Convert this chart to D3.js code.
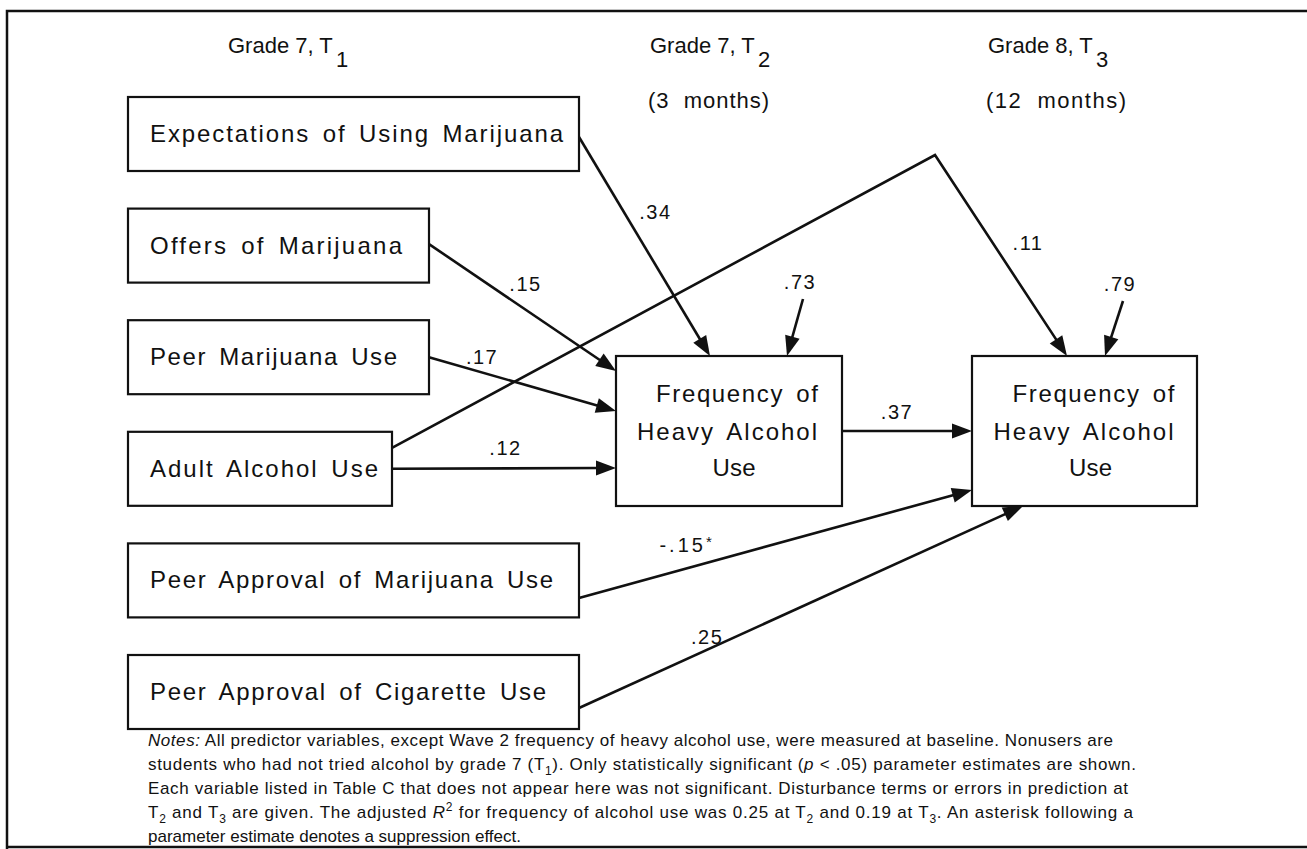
<!DOCTYPE html>
<html><head><meta charset="utf-8">
<script src="https://cdn.jsdelivr.net/npm/d3@7"></script>
<style>
html,body{margin:0;padding:0;background:#fff;}
svg{display:block;}
text{font-family:"Liberation Sans", Arial, Helvetica, sans-serif; fill:#111;}
</style></head><body>
<svg id="chart" width="1307" height="849"></svg>
<script>
// ---------------- data ----------------
const waves = ["Grade 7, T", "Grade 7, T", "Grade 8, T"];
const waveSubs = ["1", "2", "3"];
const waveIntervals = ["", "(3  months)", "(12  months)"];
const waveIds = ["T1", "T2", "T3"];
const predictors = ["Expectations of Using Marijuana", "Offers of Marijuana", "Peer Marijuana Use",
  "Adult Alcohol Use", "Peer Approval of Marijuana Use", "Peer Approval of Cigarette Use"];
const outcomes = ["T2", "T3"];
const outcomeLabel = ["Frequency of", "Heavy Alcohol", "Use"];
const pathSources = [0, 1, 2, 3, 3, 4, 5, "T2"];
const pathTargets = ["T2", "T2", "T2", "T2", "T3", "T3", "T3", "T3"];
const pathCoefficients = [".34", ".15", ".17", ".12", ".11", "-.15*", ".25", ".37"];
const disturbances = [".73", ".79"];
const noteLines = [
  [["Notes:", "i"], [" All predictor variables, except Wave 2 frequency of heavy alcohol use, were measured at baseline. Nonusers are", "n"]],
  [["students who had not tried alcohol by grade 7 (T", "n"], ["1", "sub"], ["). Only statistically significant (", "n"], ["p", "i"], [" < .05) parameter estimates are shown.", "n"]],
  [["Each variable listed in Table C that does not appear here was not significant. Disturbance terms or errors in prediction at", "n"]],
  [["T", "n"], ["2", "sub"], [" and T", "n"], ["3", "sub"], [" are given. The adjusted ", "n"], ["R", "i"], ["2", "sup"], [" for frequency of alcohol use was 0.25 at T", "n"], ["2", "sub"], [" and 0.19 at T", "n"], ["3", "sub"], [". An asterisk following a", "n"]],
  [["parameter estimate denotes a suppression effect.", "n"]]
];

// ---------------- layout (geometry, kept apart from data) ----------------
const W = 1307, H = 849;
const rowY = d3.scaleLinear().domain([0, predictors.length - 1]).range([134, 692]);
const colX = d3.scaleOrdinal().domain(waveIds).range([128, 616, 972]);
const headerX = d3.scaleOrdinal().domain(waveIds).range([228, 650, 988]);
const predBoxW = [451, 301, 301, 264, 451, 451];
const predBoxH = 74;
const predTextW = [413, 252, 247, 228, 403, 396];
const outBoxW = d3.scaleOrdinal().domain(outcomes).range([226, 225]);
const outTop = 356, outH = 150;
const outLineDy = [-37, 1, 37];
const outLineDx = d3.scaleOrdinal().domain(outcomes).range([[8, -2, 5], [9, -1, 6]]);
const outLineW = [162, 180, 43];
const srcDy = [3, -1.5, 0, 0, -21, 17.5, 16, 0];
const tgtSide = ["top", "left", "left", "left", "top", "left", "bottom", "left"];
const tgtOff = [94, 15, 55, 112, 95, 134, 51, 75];
const bend = [null, null, null, null, [935, 155], null, null, null];
const labT = [0.4, 0.5, 0.3, 0.5, 0.5, 0.27, 0.3, 0.5];
const labD = [[24, -13], [3, -24], [-3, -16], [1.5, -20], [27, -13], [2, -24], [-5, -10], [-10, -19]];
const distTgtOff = [171, 133];
const distLen = [[16, -57], [18, -55]];

const svg = d3.select("#chart");

function box(id) {
  if (typeof id === "number") {
    return {x: colX("T1"), y: rowY(id) - predBoxH / 2, w: predBoxW[id], h: predBoxH};
  }
  return {x: colX(id), y: outTop, w: outBoxW(id), h: outH};
}

// frame
svg.append("path")
  .attr("d", d3.line()([[7, H], [7, 11], [W, 11]]))
  .attr("fill", "none").attr("stroke", "#111").attr("stroke-width", 2.5);
svg.append("path")
  .attr("d", d3.line()([[7, 847], [W, 847]]))
  .attr("fill", "none").attr("stroke", "#111").attr("stroke-width", 2.5);

// headers
const hdr = svg.append("g").selectAll("g").data(waveIds).join("g");
hdr.append("text")
  .attr("x", d => headerX(d)).attr("y", 53)
  .attr("font-size", 22)
  .text((d, i) => waves[i]);
hdr.append("text")
  .attr("x", (d, i) => headerX(d) + 108).attr("y", 67)
  .attr("font-size", 22)
  .text((d, i) => waveSubs[i]);
hdr.append("text")
  .attr("x", d => headerX(d) - 2).attr("y", 108)
  .attr("font-size", 22)
  .attr("textLength", (d, i) => waveIntervals[i] ? (i === 1 ? 121 : 140) : null)
  .attr("lengthAdjust", "spacing")
  .style("white-space", "pre")
  .text((d, i) => waveIntervals[i]);

// predictor boxes
const pg = svg.append("g").selectAll("g").data(predictors).join("g");
pg.append("rect")
  .attr("x", (d, i) => box(i).x).attr("y", (d, i) => box(i).y)
  .attr("width", (d, i) => box(i).w).attr("height", (d, i) => box(i).h)
  .attr("fill", "none").attr("stroke", "#111").attr("stroke-width", 2.2);
pg.append("text")
  .attr("x", (d, i) => box(i).x + 22).attr("y", (d, i) => rowY(i) + 8)
  .attr("font-size", 24)
  .attr("word-spacing", 4)
  .attr("textLength", (d, i) => predTextW[i]).attr("lengthAdjust", "spacing")
  .text(d => d);

// outcome boxes
const og = svg.append("g").selectAll("g").data(outcomes).join("g");
og.append("rect")
  .attr("x", d => box(d).x).attr("y", d => box(d).y)
  .attr("width", d => box(d).w).attr("height", d => box(d).h)
  .attr("fill", "none").attr("stroke", "#111").attr("stroke-width", 2.2);
og.each(function(o) {
  const b = box(o);
  d3.select(this).selectAll("text").data(outcomeLabel).join("text")
    .attr("x", (d, i) => b.x + b.w / 2 + outLineDx(o)[i])
    .attr("y", (d, i) => b.y + b.h / 2 + outLineDy[i] + 8)
    .attr("text-anchor", "middle")
    .attr("font-size", 24)
    .attr("word-spacing", 4)
    .attr("textLength", (d, i) => outLineW[i]).attr("lengthAdjust", "spacing")
    .text(d => d);
});

// edges
function endPoints(i) {
  const s = box(pathSources[i]), t = box(pathTargets[i]);
  const p0 = [s.x + s.w, s.y + s.h / 2 + srcDy[i]];
  let p1;
  if (tgtSide[i] === "top") p1 = [t.x + tgtOff[i], t.y];
  else if (tgtSide[i] === "bottom") p1 = [t.x + tgtOff[i], t.y + t.h];
  else p1 = [t.x, t.y + tgtOff[i]];
  return bend[i] ? [p0, bend[i], p1] : [p0, p1];
}
const edges = pathCoefficients.map((c, i) => ({coef: c, pts: endPoints(i), i}));
const dists = disturbances.map((c, i) => {
  const t = box(outcomes[i]);
  const p1 = [t.x + distTgtOff[i], t.y];
  const p0 = [p1[0] + distLen[i][0], p1[1] + distLen[i][1]];
  return {coef: c, pts: [p0, p1]};
});
const allArrows = edges.concat(dists);

const AL = 20, AW = 7.5;
function shortened(pts) {
  const n = pts.length, a = pts[n - 2], b = pts[n - 1];
  const dx = b[0] - a[0], dy = b[1] - a[1], L = Math.hypot(dx, dy);
  const q = pts.slice();
  q[n - 1] = [b[0] - dx / L * (AL - 4), b[1] - dy / L * (AL - 4)];
  return q;
}
function head(pts) {
  const n = pts.length, a = pts[n - 2], b = pts[n - 1];
  const dx = b[0] - a[0], dy = b[1] - a[1], L = Math.hypot(dx, dy);
  const ux = dx / L, uy = dy / L;
  const bx = b[0] - ux * AL, by = b[1] - uy * AL;
  return [[b[0], b[1]], [bx - uy * AW, by + ux * AW], [bx + uy * AW, by - ux * AW]];
}
const line = d3.line();
const ag = svg.append("g");
ag.selectAll("path.edge").data(allArrows).join("path")
  .attr("class", "edge")
  .attr("d", d => line(shortened(d.pts)))
  .attr("fill", "none").attr("stroke", "#111").attr("stroke-width", 2.6)
  .attr("stroke-linejoin", "miter");
ag.selectAll("path.head").data(allArrows).join("path")
  .attr("class", "head")
  .attr("d", d => line(head(d.pts)) + "Z")
  .attr("fill", "#111").attr("stroke", "none");

// coefficient labels
function labelPos(d) {
  const n = d.pts.length, a = d.pts[n - 2], b = d.pts[n - 1], t = labT[d.i];
  return [a[0] + (b[0] - a[0]) * t + labD[d.i][0], a[1] + (b[1] - a[1]) * t + labD[d.i][1]];
}
const lt = svg.append("g").selectAll("text").data(edges).join("text")
  .attr("x", d => labelPos(d)[0]).attr("y", d => labelPos(d)[1] + 7)
  .attr("text-anchor", "middle")
  .attr("font-size", 20)
  .attr("letter-spacing", d => d.coef.length > 3 ? 3 : 1.5);
lt.each(function(d) {
  const s = d3.select(this);
  if (d.coef.endsWith("*")) {
    s.append("tspan").text(d.coef.slice(0, -1));
    s.append("tspan").attr("font-size", 15).attr("dy", -5).text("*");
  } else s.text(d.coef);
});
svg.append("g").selectAll("text").data(dists).join("text")
  .attr("x", d => d.pts[0][0] - 3).attr("y", d => d.pts[0][1] - 10)
  .attr("text-anchor", "middle").attr("font-size", 20).attr("letter-spacing", 1.5)
  .text(d => d.coef);

// notes
const noteX = 148, noteY0 = 746, noteStep = 24;
const noteW = [965, 988, 980, 985, null];
const nt = svg.append("g").selectAll("text").data(noteLines).join("text")
  .attr("x", noteX).attr("y", (d, i) => noteY0 + i * noteStep)
  .attr("font-size", 17)
  .style("white-space", "pre");
nt.each(function(segs, li) {
  const t = d3.select(this);
  let shift = 0;
  segs.forEach(([str, kind]) => {
    const sp = t.append("tspan").text(str);
    let target = 0;
    if (kind === "sub") { target = 5; sp.attr("font-size", 12); }
    if (kind === "sup") { target = -7; sp.attr("font-size", 12); }
    if (kind === "i") sp.attr("font-style", "italic");
    if (target !== shift) { sp.attr("dy", target - shift); shift = target; }
  });
  if (noteW[li]) t.attr("textLength", noteW[li]).attr("lengthAdjust", "spacing");
});
</script>
</body></html>
